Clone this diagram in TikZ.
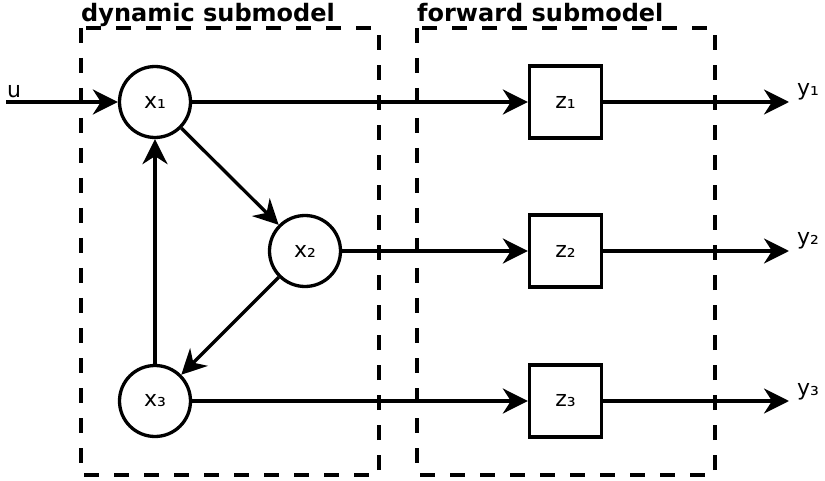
\documentclass[tikz,border=0pt]{standalone}
\usepackage{fontspec}
\setmainfont{DejaVu Sans}
\usetikzlibrary{arrows.meta}
\begin{document}
\begin{tikzpicture}[x=1pt,y=-1pt,
  state/.style={circle,draw,line width=3.3pt,minimum size=71pt,inner sep=0pt,
    font=\fontsize{22}{26}\selectfont},
  fwdbox/.style={rectangle,draw,line width=3.3pt,minimum size=72pt,inner sep=0pt,
    font=\fontsize{22}{26}\selectfont},
  group/.style={draw,line width=3.3pt,dash pattern=on 15pt off 15pt},
  title/.style={anchor=base west,inner sep=0pt,font=\bfseries\fontsize{24}{28}\selectfont},
  iolabel/.style={anchor=base west,inner sep=0pt,font=\fontsize{22}{26}\selectfont},
  flow/.style={line width=3.3pt,-{Stealth[length=25pt,width=25pt,inset=8pt]}}]
\useasboundingbox (0,0) rectangle (825,481);

% submodel frames
\draw[group] (81,28) rectangle (379,475);
\draw[group] (417,28) rectangle (715,475);
\node[title] (tdyn) at (81,22) {dynamic submodel};
\node[title] (tfwd) at (417,22) {forward submodel};

% states of the dynamic submodel
\node[state] (x1) at (155,102) {x₁};
\node[state] (x2) at (305,251) {x₂};
\node[state] (x3) at (155,401) {x₃};

% forward blocks
\node[fwdbox] (z1) at (565.5,102) {z₁};
\node[fwdbox] (z2) at (565.5,251) {z₂};
\node[fwdbox] (z3) at (565.5,401) {z₃};

% input and outputs
\coordinate (uin) at (6,102);
\node[iolabel] (ulab) at (7,98) {u};
\coordinate (y1) at (789,102);
\coordinate (y2) at (789,251);
\coordinate (y3) at (789,401);
\node[iolabel] (y1lab) at (797,96) {y₁};
\node[iolabel] (y2lab) at (797,245) {y₂};
\node[iolabel] (y3lab) at (797,395) {y₃};

% connections
\draw[flow] (uin) -- (x1);
\draw[flow] (x1) -- (x2);
\draw[flow] (x2) -- (x3);
\draw[flow] (x3) -- (x1);
\draw[flow] (x1) -- (z1);
\draw[flow] (x2) -- (z2);
\draw[flow] (x3) -- (z3);
\draw[flow] (z1) -- (y1);
\draw[flow] (z2) -- (y2);
\draw[flow] (z3) -- (y3);
\end{tikzpicture}
\end{document}
